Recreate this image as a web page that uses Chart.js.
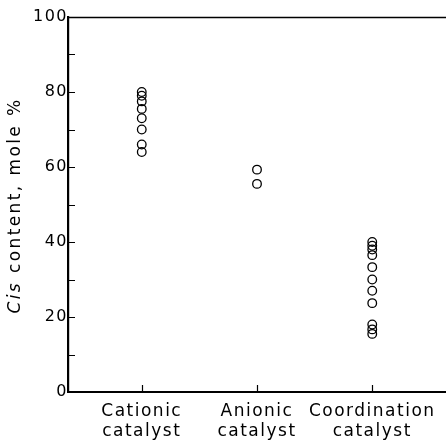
<!DOCTYPE html>
<html>
<head>
<meta charset="utf-8">
<script src="https://cdn.jsdelivr.net/npm/chart.js@4"></script>
<style>
  html, body { margin: 0; padding: 0; background: #fff; }
  #wrap { width: 446px; height: 443px; }
</style>
</head>
<body>
<div id="wrap"><canvas id="chart"></canvas></div>
<script>
// categories along the x axis
const categories = ['Cationic catalyst', 'Anionic catalyst', 'Coordination catalyst'];

// cis content (mole %), one list per catalyst type
const cationic = [80, 79, 77.5, 75.5, 73, 70, 66, 64];
const anionic = [59.3, 55.5];
const coordination = [40, 39, 38, 36.5, 33.3, 30, 27, 23.7, 18, 16.7, 15.5];

const yTicks = [0, 20, 40, 60, 80, 100];
const yMinorTicks = [10, 20, 30, 40, 50, 60, 70, 80, 90];

const fontFamily = '"DejaVu Sans", sans-serif';

function toPoints(values, pos) {
  return values.map(v => ({ x: pos, y: v }));
}

// inward tick marks, top frame line and the y title (Cis in italics)
const framePlugin = {
  id: 'frame',
  beforeDraw(chart) {
    chart.ctx.letterSpacing = '1.5px';
  },
  afterDraw(chart) {
    const ctx = chart.ctx;
    const area = chart.chartArea;
    const xs = chart.scales.x;
    const ys = chart.scales.y;
    ctx.save();
    ctx.strokeStyle = '#000';
    ctx.lineWidth = 1.2;
    ctx.beginPath();
    yMinorTicks.forEach(v => {
      const py = Math.round(ys.getPixelForValue(v)) + 0.5;
      ctx.moveTo(area.left, py);
      ctx.lineTo(area.left + 7, py);
    });
    categories.forEach((c, i) => {
      const px = Math.round(xs.getPixelForValue(i + 1)) + 0.5;
      ctx.moveTo(px, area.bottom);
      ctx.lineTo(px, area.bottom - 7);
    });
    ctx.stroke();

    ctx.lineWidth = 1.3;
    ctx.beginPath();
    ctx.moveTo(area.left, area.top + 0.5);
    ctx.lineTo(chart.width, area.top + 0.5);
    ctx.stroke();

    // y axis title
    ctx.translate(16, (area.top + area.bottom) / 2 + 1);
    ctx.rotate(-Math.PI / 2);
    ctx.fillStyle = '#000';
    ctx.textBaseline = 'middle';
    ctx.letterSpacing = '2.4px';
    const part1 = 'Cis';
    const part2 = ' content, mole %';
    ctx.font = 'italic 17px ' + fontFamily;
    const w1 = ctx.measureText(part1).width;
    ctx.font = '17px ' + fontFamily;
    const w2 = ctx.measureText(part2).width;
    let x0 = -(w1 + w2) / 2;
    ctx.font = 'italic 17px ' + fontFamily;
    ctx.textAlign = 'left';
    ctx.fillText(part1, x0, 0);
    ctx.font = '17px ' + fontFamily;
    ctx.fillText(part2, x0 + w1, 0);
    ctx.restore();
  }
};

const pointStyle = {
  pointStyle: 'circle',
  pointRadius: 4.3,
  pointHoverRadius: 4.3,
  pointBorderWidth: 1.3,
  borderColor: '#000',
  backgroundColor: 'rgba(0,0,0,0)',
  pointBackgroundColor: 'rgba(0,0,0,0)',
  pointBorderColor: '#000'
};

const chart = new Chart(document.getElementById('chart').getContext('2d'), {
  type: 'scatter',
  data: {
    datasets: [
      Object.assign({ label: categories[0], data: toPoints(cationic, 1) }, pointStyle),
      Object.assign({ label: categories[1], data: toPoints(anionic, 2) }, pointStyle),
      Object.assign({ label: categories[2], data: toPoints(coordination, 3) }, pointStyle)
    ]
  },
  options: {
    responsive: true,
    maintainAspectRatio: false,
    animation: false,
    layout: { autoPadding: false, padding: { top: 17, right: 0, left: 0, bottom: 0 } },
    plugins: {
      legend: { display: false },
      tooltip: { enabled: false }
    },
    scales: {
      x: {
        type: 'linear',
        min: 0.36,
        max: 3.64,
        afterBuildTicks: scale => {
          scale.ticks = categories.map((c, i) => ({ value: i + 1 }));
        },
        afterFit: scale => {
          scale.height = 51;
          scale.paddingLeft = 0;
          scale.paddingRight = 0;
        },
        grid: { display: false, drawTicks: false },
        border: { display: true, color: '#000', width: 2 },
        ticks: {
          color: '#000',
          padding: 9,
          maxRotation: 0,
          autoSkip: false,
          font: { family: fontFamily, size: 17, lineHeight: 1.2 },
          callback: v => categories[v - 1] ? categories[v - 1].split(' ') : ''
        }
      },
      y: {
        min: 0,
        max: 100,
        afterBuildTicks: scale => {
          scale.ticks = yTicks.map(v => ({ value: v }));
        },
        afterFit: scale => {
          scale.width = 68;
          scale.paddingTop = 0;
          scale.paddingBottom = 0;
        },
        grid: { display: false, drawTicks: false },
        border: { display: true, color: '#000', width: 2.2 },
        ticks: {
          color: '#000',
          padding: 0,
          font: { family: fontFamily, size: 16 }
        }
      }
    }
  },
  plugins: [framePlugin]
});
</script>
</body>
</html>
